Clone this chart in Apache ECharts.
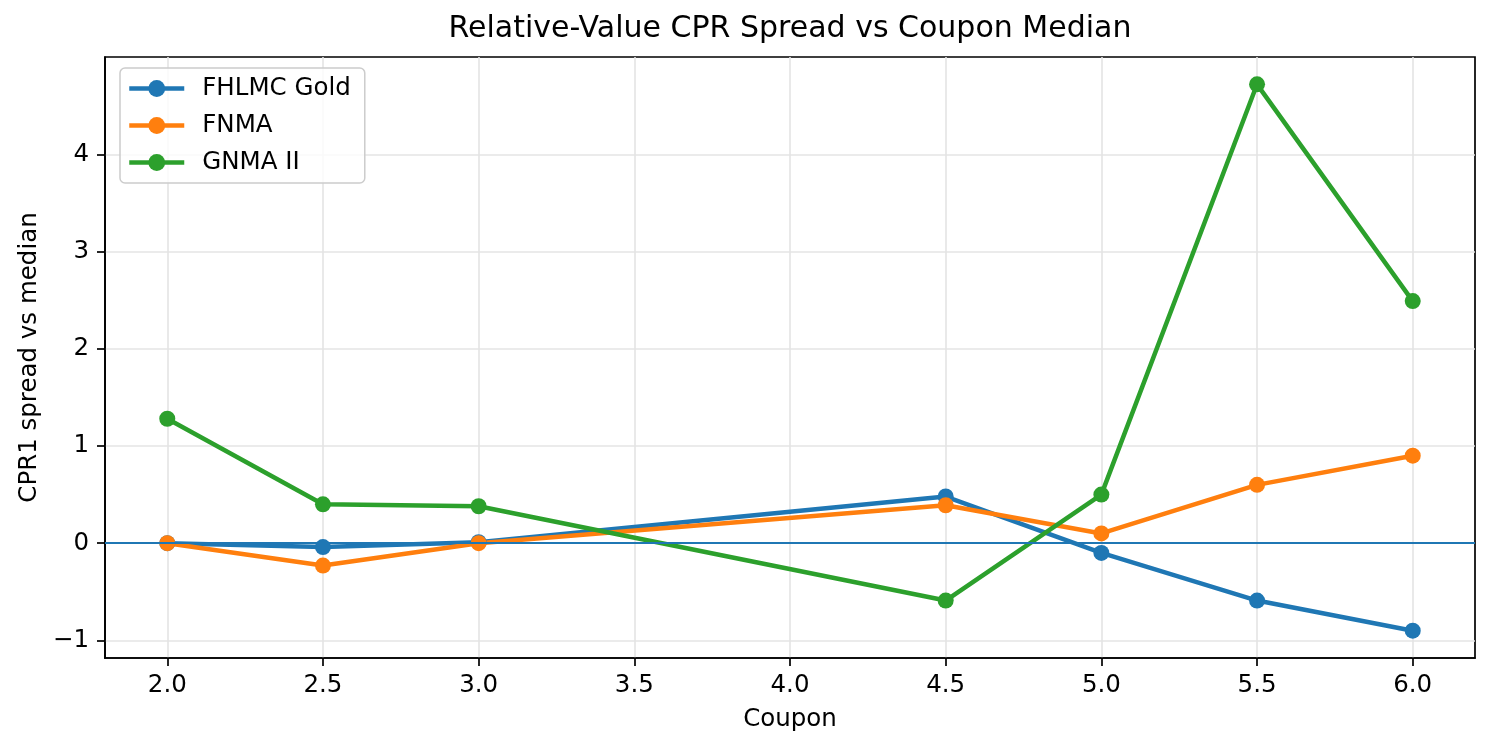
<!DOCTYPE html>
<html>
<head>
<meta charset="utf-8">
<script src="https://cdn.jsdelivr.net/npm/echarts@6/dist/echarts.min.js"></script>
<style>
html,body{margin:0;padding:0;background:#fff;}
#c{width:1492px;height:751px;}
</style>
</head>
<body>
<div id="c"></div>
<script>
const coupons = [2.0, 2.5, 3.0, 4.5, 5.0, 5.5, 6.0];
const fhlmcGold = [0.00, -0.04, 0.01, 0.48, -0.10, -0.59, -0.90];
const fnma = [0.00, -0.23, 0.00, 0.39, 0.10, 0.60, 0.90];
const gnmaII = [1.28, 0.40, 0.38, -0.59, 0.50, 4.72, 2.49];
const seriesNames = ['FHLMC Gold', 'FNMA', 'GNMA II'];
const xTicks = [2.0, 2.5, 3.0, 3.5, 4.0, 4.5, 5.0, 5.5, 6.0];
const yTicks = [-1, 0, 1, 2, 3, 4];

const colors = ['#1f77b4', '#ff7f0e', '#2ca02c'];
const font = 'DejaVu Sans';
const pairs = (ys) => coupons.map((x, i) => [x, ys[i]]);

function mkSeries(name, ys, color, extra) {
  return Object.assign({
    name: name,
    type: 'line',
    data: pairs(ys),
    symbol: 'circle',
    symbolSize: 16,
    showAllSymbol: true,
    color: color,
    lineStyle: {width: 4.5, color: color},
    itemStyle: {color: color},
    emphasis: {disabled: true},
    animation: false
  }, extra || {});
}

const chart = echarts.init(document.getElementById('c'), null, {renderer: 'canvas'});
chart.setOption({
  animation: false,
  backgroundColor: '#fff',
  title: {
    text: 'Relative-Value CPR Spread vs Coupon Median',
    left: 790, textAlign: 'center', top: 14,
    padding: 0,
    textStyle: {fontFamily: font, fontSize: 30, fontWeight: 'normal', color: '#000'}
  },
  grid: {
    left: 105, right: 17, top: 57, bottom: 93,
    show: true, borderColor: '#000', borderWidth: 1.7, backgroundColor: 'transparent'
  },
  legend: {
    orient: 'vertical',
    left: 120, top: 68,
    padding: [8, 14, 8, 7],
    itemWidth: 55, itemHeight: 21, itemGap: 12,
    backgroundColor: 'rgba(255,255,255,0.8)',
    borderColor: '#cccccc', borderWidth: 1.5, borderRadius: 5,
    data: seriesNames,
    lineStyle: {width: 4.5},
    textStyle: {fontFamily: font, fontSize: 24.5, lineHeight: 25, color: '#000', padding: [0, 0, 0, 13]},
    selectedMode: false
  },
  xAxis: {
    type: 'value',
    min: 1.8, max: 6.2,
    splitNumber: 9,
    name: 'Coupon',
    nameLocation: 'middle',
    nameGap: 49,
    nameTextStyle: {fontFamily: font, fontSize: 24.5, color: '#000'},
    axisLine: {show: true, onZero: false, lineStyle: {color: '#000', width: 1.7}},
    axisTick: {show: true, length: 8, customValues: xTicks, lineStyle: {color: '#000', width: 1.7}},
    axisLabel: {
      customValues: xTicks, margin: 15,
      fontFamily: font, fontSize: 24.5, color: '#000',
      formatter: v => v.toFixed(1)
    },
    splitLine: {show: true, lineStyle: {color: '#e4e4e4', width: 1.6}}
  },
  yAxis: {
    type: 'value',
    min: -1.181, max: 5.001,
    name: 'CPR1 spread vs median',
    nameLocation: 'middle',
    nameGap: 61,
    nameTextStyle: {fontFamily: font, fontSize: 24.5, color: '#000'},
    axisLine: {show: true, onZero: false, lineStyle: {color: '#000', width: 1.7}},
    axisTick: {show: true, length: 8, customValues: yTicks, lineStyle: {color: '#000', width: 1.7}},
    axisLabel: {
      customValues: yTicks, margin: 16,
      fontFamily: font, fontSize: 24.5, color: '#000',
      formatter: v => String(v).replace('-', '\u2212')
    },
    splitLine: {show: true, lineStyle: {color: '#e4e4e4', width: 1.6}}
  },
  series: [
    mkSeries(seriesNames[0], fhlmcGold, colors[0], {
      markLine: {
        silent: true, symbol: 'none', animation: false,
        label: {show: false},
        lineStyle: {color: colors[0], width: 2.2, type: 'solid'},
        data: [{yAxis: 0}]
      }
    }),
    mkSeries(seriesNames[1], fnma, colors[1]),
    mkSeries(seriesNames[2], gnmaII, colors[2])
  ]
});
</script>
</body>
</html>
